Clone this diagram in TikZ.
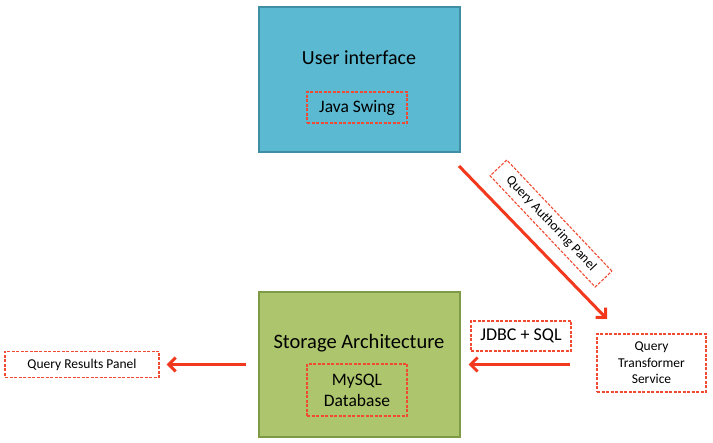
\documentclass[tikz,border=0pt]{standalone}
\usepackage{fontspec}
\setmainfont{Carlito}
\usetikzlibrary{arrows.meta,positioning}

\definecolor{uiblue}{HTML}{5BB9D1}
\definecolor{uiedge}{HTML}{3F8EA3}
\definecolor{dbgreen}{HTML}{ADC56C}
\definecolor{dbedge}{HTML}{7F9A47}
\definecolor{flowred}{HTML}{F2391D}
\definecolor{dashred}{HTML}{F04A32}

\begin{document}
\begin{tikzpicture}[x=1pt,y=-1pt,
    block/.style={draw,line width=2pt,minimum width=201pt,minimum height=145pt,inner sep=0pt},
    tag/.style={color=dashred,text=black,draw,dash pattern=on 3pt off 1.5pt,line width=1.1pt,align=center,inner sep=0pt},
    flow/.style={-{Straight Barb[length=7pt,width=14pt]},draw=flowred,line width=3pt}]

  \useasboundingbox (0,0) rectangle (713,443);

  \node[block,fill=uiblue,draw=uiedge]    (ui) at (359,80)    {};
  \node[font=\fontsize{20}{22}\selectfont] (uititle) at (359,58) {User interface};
  \node[tag,minimum width=100pt,minimum height=31pt,font=\fontsize{17.5}{19}\selectfont]
        (swing) at (357,107.5) {Java Swing};

  \node[block,fill=dbgreen,draw=dbedge]   (sa) at (359,364.5) {};
  \node[font=\fontsize{20.5}{22}\selectfont] (satitle) at (359,343) {Storage Architecture};
  \node[tag,minimum width=100pt,minimum height=52pt,font=\fontsize{17.5}{21}\selectfont]
        (mysql) at (357,390) {MySQL\\Database};

  \node[tag,minimum width=154pt,minimum height=26pt,font=\fontsize{13.5}{15}\selectfont]
        (qrp) at (82,364.5) {Query Results Panel};
  \node[tag,minimum width=100pt,minimum height=30pt,font=\fontsize{18}{20}\selectfont]
        (jdbc) at (521,336) {JDBC + SQL};
  \node[tag,minimum width=109pt,minimum height=58pt,font=\fontsize{13.5}{16.5}\selectfont]
        (qts) at (651.5,363) {Query\\Transformer\\Service};
  \node[tag,rotate=-46.6,minimum width=153pt,minimum height=23pt,font=\fontsize{13.5}{15}\selectfont]
        (qap) at (551,223.5) {Query Authoring Panel};

  \coordinate (qastart) at (459,166);
  \coordinate (qaend)   at (607,319);

  \draw[flow] (qastart) -- (qaend);
  \draw[flow,shorten <=26pt,shorten >=8pt] (qts.west |- sa.east) -- (sa.east);
  \draw[flow,shorten <=12pt,shorten >=7pt] (sa.west) -- (qrp.east);
\end{tikzpicture}
\end{document}
